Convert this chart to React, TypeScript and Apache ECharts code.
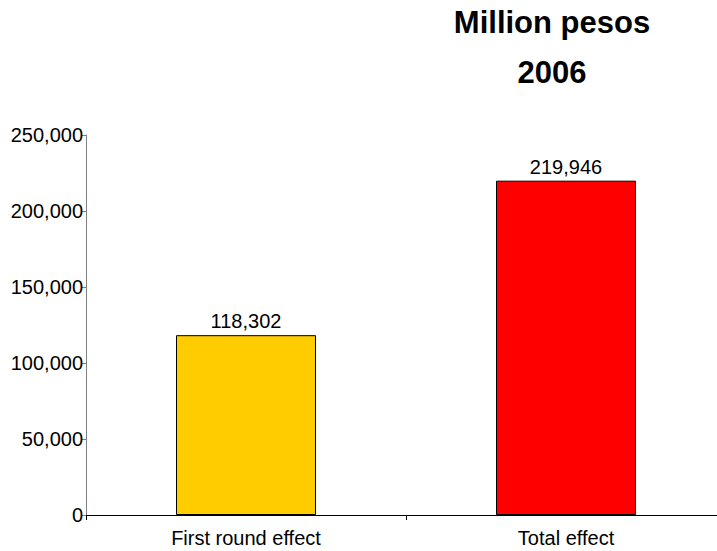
import React, { useEffect, useRef } from "react";
import * as echarts from "echarts";

const categories = ["First round effect", "Total effect"];
const values = [118302, 219946];
const barColors = ["#FFCC00", "#FF0000"];
const titleLines = ["Million pesos", "2006"];

const FONT = "Liberation Sans, Arial, sans-serif";
const fmt = (v: number) => v.toLocaleString("en-US");

export default function App() {
  const ref = useRef<HTMLDivElement>(null);
  useEffect(() => {
    if (!ref.current) return;
    const chart = echarts.init(ref.current, null, { renderer: "svg" });
    chart.setOption({
      animation: false,
      backgroundColor: "#ffffff",
      textStyle: { fontFamily: FONT },
      title: [
        {
          text: titleLines[0],
          left: 552,
          top: 6,
          padding: 0,
          textAlign: "center",
          textStyle: { fontSize: 31, lineHeight: 32, fontWeight: "bold", color: "#000", fontFamily: FONT },
        },
        {
          text: titleLines[1],
          left: 552,
          top: 56,
          padding: 0,
          textAlign: "center",
          textStyle: { fontSize: 31, lineHeight: 32, fontWeight: "bold", color: "#000", fontFamily: FONT },
        },
      ],
      grid: { left: 86, top: 135, width: 640, height: 380, containLabel: false, outerBoundsMode: "none" },
      xAxis: {
        type: "category",
        data: categories,
        axisLine: { show: true, lineStyle: { color: "#000", width: 1 } },
        axisTick: { show: true, alignWithLabel: false, length: 5, lineStyle: { color: "#000" }, interval: 0 },
        axisLabel: { color: "#000", fontSize: 20, margin: 13, fontFamily: FONT },
        splitLine: { show: false },
      },
      yAxis: {
        type: "value",
        min: 0,
        max: 250000,
        interval: 50000,
        axisLine: { show: true, lineStyle: { color: "#808080", width: 1 } },
        axisTick: { show: true, length: 4, lineStyle: { color: "#808080" } },
        axisLabel: {
          color: "#000",
          fontSize: 20,
          margin: 3,
          formatter: (v: number) => fmt(v),
          fontFamily: FONT,
        },
        splitLine: { show: false },
      },
      series: [
        {
          type: "bar",
          barWidth: "43.75%",
          data: values.map((v, i) => ({
            value: v,
            itemStyle: { color: barColors[i], borderColor: "#000", borderWidth: 1 },
          })),
          label: {
            show: true,
            position: "top",
            distance: 4,
            color: "#000",
            fontSize: 20,
            formatter: (p: any) => fmt(p.value),
            fontFamily: FONT,
          },
        },
      ],
    });
    return () => chart.dispose();
  }, []);
  return (
    <div
      ref={ref}
      style={{ position: "fixed", left: 0, top: 0, width: 717, height: 551, background: "#fff" }}
    />
  );
}
